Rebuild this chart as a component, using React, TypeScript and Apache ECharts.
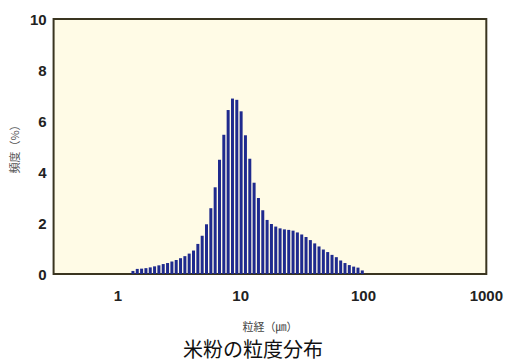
import React, { useEffect, useRef } from "react";
import * as echarts from "echarts";

// particle size of each bin (µm)
const sizes = [
  1.328, 1.44, 1.562, 1.694, 1.837, 1.992, 2.16, 2.343, 2.541, 2.756,
  2.988, 3.241, 3.515, 3.812, 4.134, 4.484, 4.862, 5.273, 5.719, 6.202,
  6.726, 7.294, 7.911, 8.579, 9.304, 10.09, 10.94, 11.87, 12.87, 13.96,
  15.14, 16.42, 17.81, 19.31, 20.94, 22.71, 24.63, 26.71, 28.97, 31.42,
  34.07, 36.95, 40.08, 43.46, 47.13, 51.12, 55.44, 60.12, 65.21, 70.71,
  76.69, 83.17, 90.19, 97.79,
];

// frequency (%)
const freq = [
  0.12, 0.2, 0.21, 0.23, 0.26, 0.3, 0.34, 0.39, 0.43, 0.49,
  0.55, 0.62, 0.7, 0.8, 0.92, 1.18, 1.5, 1.95, 2.58, 3.4,
  4.48, 5.46, 6.43, 6.88, 6.83, 6.38, 5.44, 4.52, 3.58, 2.98,
  2.5, 2.12, 1.96, 1.86, 1.79, 1.75, 1.73, 1.7, 1.63, 1.55,
  1.45, 1.33, 1.2, 1.08, 0.96, 0.86, 0.75, 0.66, 0.53, 0.43,
  0.35, 0.29, 0.25, 0.14,
];

const title = "米粉の粒度分布";
const xName = "粒経（㎛）";
const yName = "頻度（%）";

export default function App() {
  const ref = useRef<HTMLDivElement>(null);
  useEffect(() => {
    document.body.style.margin = "0";
    const chart = echarts.init(ref.current!, null, { renderer: "svg" });
    const sans = "'Liberation Sans', Arial, sans-serif";
    const cjk = "'Noto Sans CJK JP', sans-serif";
    chart.setOption({
      animation: false,
      backgroundColor: "#ffffff",
      title: {
        text: title,
        left: "center",
        top: 338,
        padding: 0,
        textStyle: { fontSize: 20, fontWeight: "normal", color: "#111", fontFamily: cjk, lineHeight: 20 },
      },
      grid: {
        left: 51,
        right: 16,
        top: 19,
        bottom: 87,
        show: true,
        backgroundColor: "#fffbe6",
        borderColor: "#3a3520",
        borderWidth: 2,
      },
      xAxis: {
        type: "log",
        logBase: 10,
        min: 0.3,
        max: 1000,
        name: xName,
        nameLocation: "middle",
        nameGap: 46,
        nameTextStyle: { fontSize: 11, color: "#444", fontFamily: cjk, lineHeight: 12 },
        axisLine: { show: false },
        axisTick: { show: false },
        splitLine: { show: false },
        minorTick: { show: false },
        axisLabel: {
          showMinLabel: false,
          margin: 14,
          fontSize: 15,
          fontWeight: "bold",
          color: "#222",
          fontFamily: sans,
          formatter: (v: number) => String(Math.round(v)),
        },
      },
      yAxis: {
        type: "value",
        min: 0,
        max: 10,
        interval: 2,
        name: yName,
        nameLocation: "middle",
        nameGap: 34,
        nameTextStyle: { fontSize: 11, color: "#555", fontFamily: cjk },
        axisLine: { show: false },
        axisTick: { show: false },
        splitLine: { show: false },
        axisLabel: { margin: 7, fontSize: 15, fontWeight: "bold", color: "#222", fontFamily: sans },
      },
      series: [
        {
          type: "bar",
          data: sizes.map((s, i) => [s, freq[i]]),
          barWidth: 3,
          itemStyle: { color: "#1f2a8e" },
        },
      ],
    });
    return () => chart.dispose();
  }, []);
  return <div ref={ref} style={{ width: 506, height: 361 }} />;
}
